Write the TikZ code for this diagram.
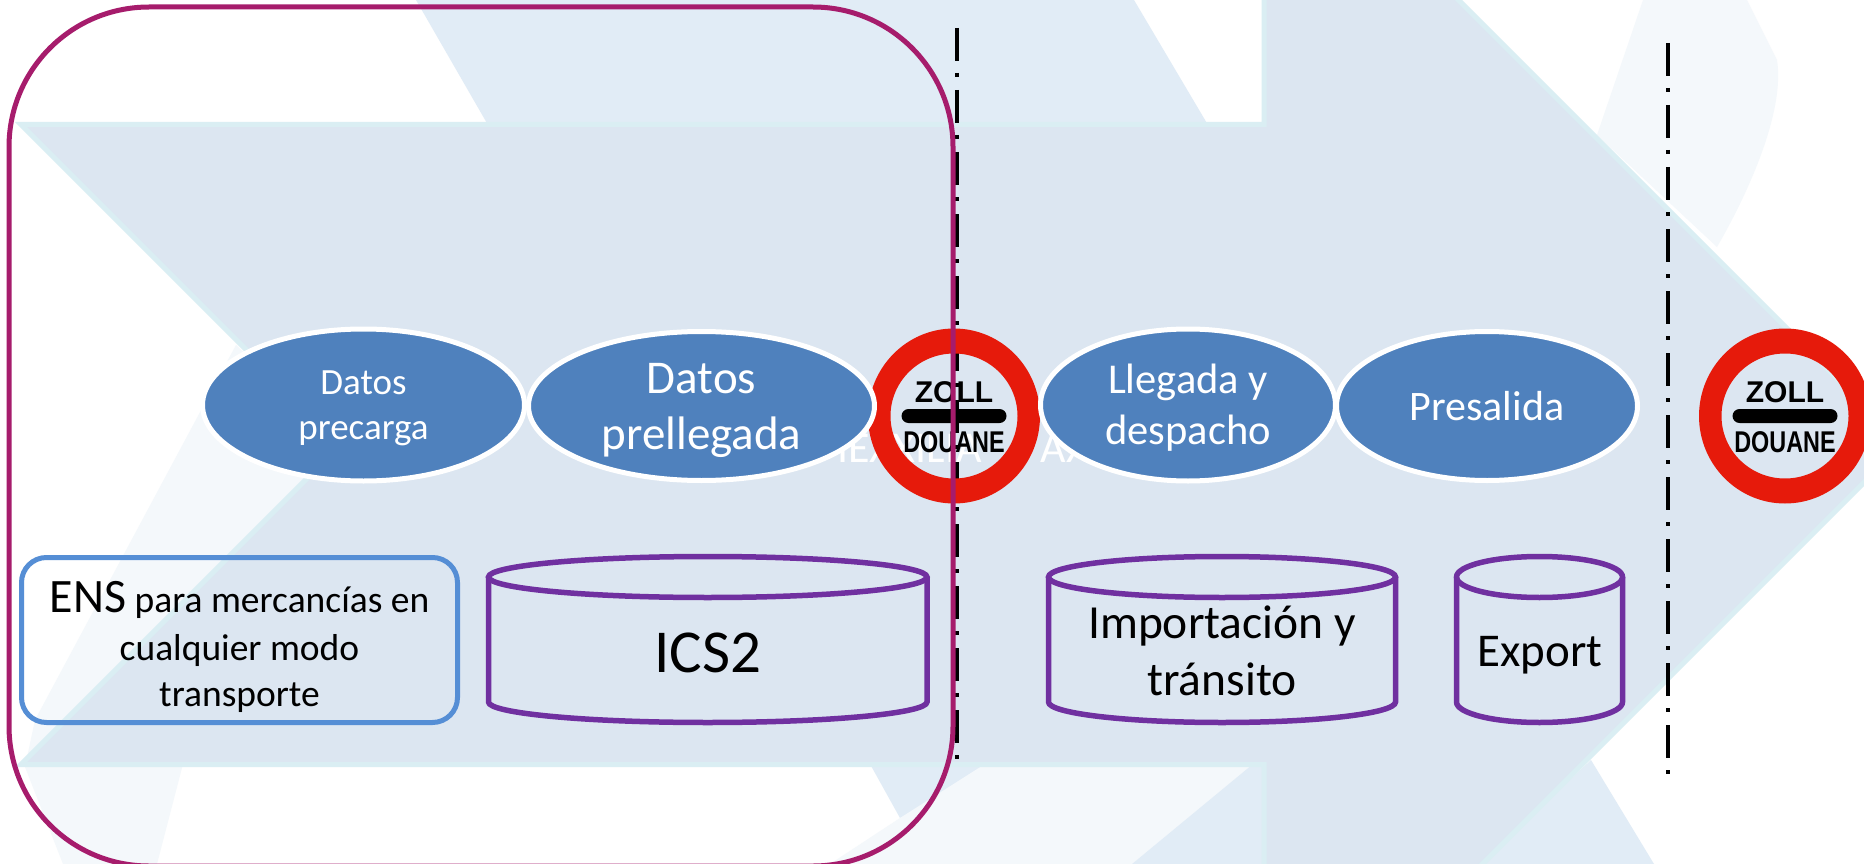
\documentclass[tikz,border=0pt]{standalone}
\usepackage{fontspec}
\setmainfont{Carlito}
\newfontfamily\zollfont{Liberation Sans}
\usetikzlibrary{shapes.geometric}
\definecolor{shaftfill}{HTML}{DCE6F1}
\definecolor{shaftedge}{HTML}{DAEEF3}
\definecolor{fainta}{HTML}{E1ECF6}
\definecolor{faintb}{HTML}{F4F8FB}
\definecolor{ovalblue}{HTML}{4F81BD}
\definecolor{ringred}{HTML}{E61A0B}
\definecolor{boxblue}{HTML}{558ED5}
\definecolor{canpurple}{HTML}{7030A0}
\definecolor{framepink}{HTML}{A61C6C}
\tikzset{
  oval/.style={ellipse,draw=white,fill=ovalblue,line width=5pt,inner sep=0pt,outer sep=0pt,text=white},
  canline/.style={draw=canpurple,line width=5.5pt},
  zolltxt/.style={font=\zollfont\bfseries\fontsize{30}{30}\selectfont,inner sep=0pt,text=black},
  dashdot/.style={draw=black,line width=3.5pt,dash pattern=on 33pt off 12pt on 4pt off 13pt},
  labeltxt/.style={inner sep=0pt,anchor=base,text=black}
}
% text whose first baseline lies dy above the centre of its node, without enlarging the node
\newcommand\ovaltext[3]{\fontsize{#1}{#2}\selectfont\raisebox{#3}[0pt][0pt]}
\newcommand\dbcan[2]{%
  \draw[canline] ({(#1+#2)/2},577) ellipse [x radius={(#2-#1)/2*1pt},y radius=20.5pt];
  \draw[canline] (#1,577) -- (#1,702) arc [start angle=180,end angle=360,x radius={(#2-#1)/2*1pt},y radius=20.5pt] -- (#2,577);
}
\newcommand\zollsign[2]{%
  \fill[ringred,even odd rule] (#2,416) ellipse [x radius=86pt,y radius=87.5pt] (#2,416) ellipse [x radius=63.5pt,y radius=62.5pt];
  \fill[black,rounded corners=7pt] (#2-52.5,409) rectangle (#2+52.5,423);
  \node[zolltxt,anchor=base] (#1z) at (#2,402) {ZOLL};
  \node[zolltxt,anchor=base,xscale=.78] (#1d) at (#2,452) {DOUANE};
}
\begin{document}
\begin{tikzpicture}[x=1pt,y=-1pt]
\path[use as bounding box] (0,0) rectangle (1864,864);
\clip (0,0) rectangle (1864,864);
\fill[white] (0,0) rectangle (1864,864);
% faint background shapes
\fill[fainta] (416,0) -- (488,125) -- (1208,125) -- (1134,0) -- cycle;
\fill[fainta] (870,764) -- (900,818) -- (1000,764) -- cycle;
\fill[faintb] (985,764) -- (900,818) -- (830,864) -- (1132,864) -- (1253,764) -- cycle;
\fill[fainta] (1253,764) -- (1132,864) -- (1265,864) -- (1265,764) -- cycle;
\fill[fainta] (1591,760) -- (1654,864) -- (1479,864) -- cycle;
\fill[faintb] (236,345) -- (35,720) -- (25,767) -- (63,864) -- (157,864) -- (183,764) -- (340,445) -- cycle;
\fill[faintb] (1643,0) -- (1597,135) -- (1717,247) .. controls (1750,190) and (1785,110) .. (1777,60) -- (1747,0) -- cycle;
% main chevron arrow
\draw[fill=shaftfill,draw=shaftedge,line width=5pt,miter limit=10]
  (21,124.5) -- (1264,124.5) -- (1264,-194.5) -- (1902.5,444) -- (1264,1082.5) -- (1264,764.5) -- (21,764.5) -- (341,444.5) -- cycle;
% faint text
\node[inner sep=0pt,anchor=base west,text=white,font=\fontsize{44}{44}\selectfont] (faint) at (837,462) {IEXXILIA\hspace{59pt}AX};
% dash-dot borders
\coordinate (lineAtop) at (957,28);
\coordinate (lineAbot) at (957,764);
\coordinate (lineBtop) at (1668,43);
\coordinate (lineBbot) at (1668,779);
\draw[dashdot] (lineAtop) -- (lineAbot);
\draw[dashdot] (lineBtop) -- (lineBbot);
% customs signs
\zollsign{signa}{954}
\zollsign{signb}{1785}
% ovals
\node[oval,minimum width=322pt,minimum height=152pt] (precarga) at (363.5,405)
  {\ovaltext{37}{45}{11pt}{\begin{tabular}[t]{@{}c@{}}Datos\\precarga\end{tabular}}};
\node[oval,minimum width=346pt,minimum height=149pt] (prellegada) at (701.5,406)
  {\ovaltext{47}{56}{13pt}{\begin{tabular}[t]{@{}c@{}}Datos\\prellegada\end{tabular}}};
\node[oval,minimum width=295pt,minimum height=152pt] (llegada) at (1188,405)
  {\ovaltext{42.5}{51}{12pt}{\begin{tabular}[t]{@{}c@{}}Llegada y\\despacho\end{tabular}}};
\node[oval,minimum width=301pt,minimum height=149pt] (presalida) at (1487,406)
  {\ovaltext{42}{50}{-14pt}{Presalida}};
% ENS box
\node[rectangle,draw=boxblue,line width=5pt,rounded corners=25pt,inner sep=0pt,minimum width=436pt,minimum height=165pt] (ens) at (239.5,640)
  {\ovaltext{37.5}{46}{28pt}{\begin{tabular}[t]{@{}c@{}}{\fontsize{48}{48}\selectfont ENS} para mercancías en\\[2pt]cualquier modo\\transporte\end{tabular}}};
% databases
\dbcan{488.5}{927}
\node[labeltxt,font=\fontsize{61}{61}\selectfont] (ics) at (708,672) {ICS2};
\dbcan{1048.5}{1395.5}
\node[labeltxt,font=\fontsize{47.5}{57}\selectfont] (imp) at (1222,638) {\begin{tabular}[t]{@{}c@{}}Importación y\\tránsito\end{tabular}};
\dbcan{1456.5}{1622.5}
\node[labeltxt,font=\fontsize{47}{47}\selectfont] (exp) at (1540,666) {Export};
% frame
\draw[framepink,line width=5pt,rounded corners=140pt] (9,7) rectangle (953,866);
\end{tikzpicture}
\end{document}
